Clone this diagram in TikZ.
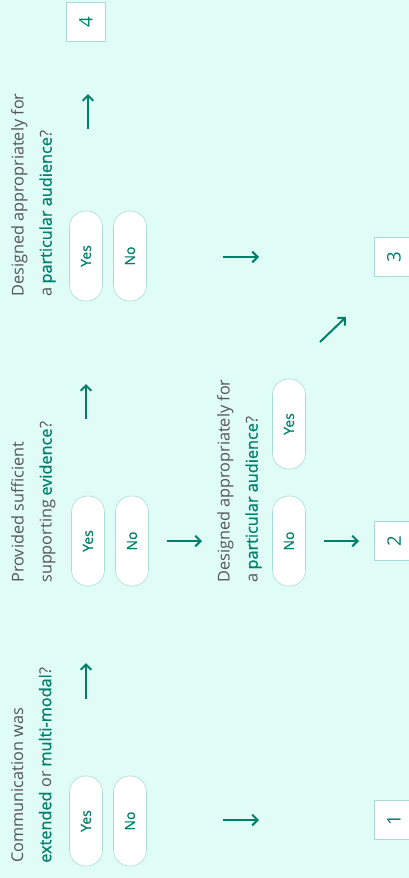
\documentclass[tikz,border=0pt]{standalone}
\usepackage{fontspec}
\setmainfont{Open Sans}
\newfontfamily\semifont{Open Sans}[FakeBold=0.9]
\usetikzlibrary{arrows.meta}
\definecolor{bgmint}{HTML}{DFFCF7}
\definecolor{tealc}{HTML}{00806B}
\definecolor{greyc}{HTML}{555555}
\definecolor{edgec}{HTML}{A6DCD4}
\newcommand{\hl}[1]{{\semifont\textcolor{tealc}{#1}}}
\tikzset{
  pill/.style={draw=edgec, fill=white, rounded corners=12pt, rotate=90,
    minimum width=67.5pt, minimum height=24.75pt, inner sep=0pt,
    text=tealc, font=\semifont\fontsize{10.5}{12}\selectfont},
  numbox/.style={draw=edgec, fill=white, rotate=90, minimum size=29pt,
    inner sep=0pt, text=tealc, font=\fontsize{14}{16}\selectfont},
  qtext/.style={rotate=90, anchor=north west, align=left, inner sep=0pt,
    text=greyc, font=\fontsize{12.2}{21}\selectfont},
  arr/.style={draw=tealc, line width=1.5pt, -{Straight Barb[length=4pt,width=8pt]}},
}
\begin{document}
\begin{tikzpicture}[x=0.75pt,y=0.75pt,yscale=-1,xscale=1]
    % background, page size of the reference
    \fill[bgmint] (0,0) rectangle (409,878);
    \clip (0,0) rectangle (409,878);
    % first question
    \node[qtext] (qmodal) at (11,863) {Communication was\\\hl{extended} or \hl{multi-modal}?};
    \node[pill] (yesmodal) at (86,821) {Yes};
    \node[pill] (nomodal) at (130,821) {No};
    % second question
    \node[qtext] (qevid) at (11,583) {Provided sufficient\\supporting \hl{evidence}?};
    \node[pill] (yesevid) at (88,541) {Yes};
    \node[pill] (noevid) at (132,541) {No};
    % audience question after no evidence
    \node[qtext] (qaudlow) at (217,583) {Designed appropriately for\\a \hl{particular audience}?};
    \node[pill] (noaudlow) at (289,541) {No};
    \node[pill] (yesaudlow) at (289,424) {Yes};
    % audience question after evidence
    \node[qtext] (qaudhigh) at (11,297) {Designed appropriately for\\a \hl{particular audience}?};
    \node[pill] (yesaudhigh) at (86,256) {Yes};
    \node[pill] (noaudhigh) at (130,256) {No};
    % levels
    \node[numbox] (lvlone) at (394,820) {1};
    \node[numbox] (lvltwo) at (394,541) {2};
    \node[numbox] (lvlthree) at (394,257) {3};
    \node[numbox] (lvlfour) at (86,22) {4};
    % arrow ends
    \coordinate (mupa) at (86,699);  \coordinate (mupb) at (86,663);
    \coordinate (mnoa) at (223,820); \coordinate (mnob) at (259,820);
    \coordinate (eupa) at (86,419);  \coordinate (eupb) at (86,384);
    \coordinate (enoa) at (167,541); \coordinate (enob) at (202,541);
    \coordinate (lnoa) at (324,541); \coordinate (lnob) at (359,541);
    \coordinate (lyesa) at (320,342); \coordinate (lyesb) at (346,317);
    \coordinate (hupa) at (88,129);  \coordinate (hupb) at (88,94);
    \coordinate (hnoa) at (223,257); \coordinate (hnob) at (259,257);
    \draw[arr] (mupa) -- (mupb);
    \draw[arr] (mnoa) -- (mnob);
    \draw[arr] (eupa) -- (eupb);
    \draw[arr] (enoa) -- (enob);
    \draw[arr] (lnoa) -- (lnob);
    \draw[arr] (lyesa) -- (lyesb);
    \draw[arr] (hupa) -- (hupb);
    \draw[arr] (hnoa) -- (hnob);
\end{tikzpicture}
\end{document}
